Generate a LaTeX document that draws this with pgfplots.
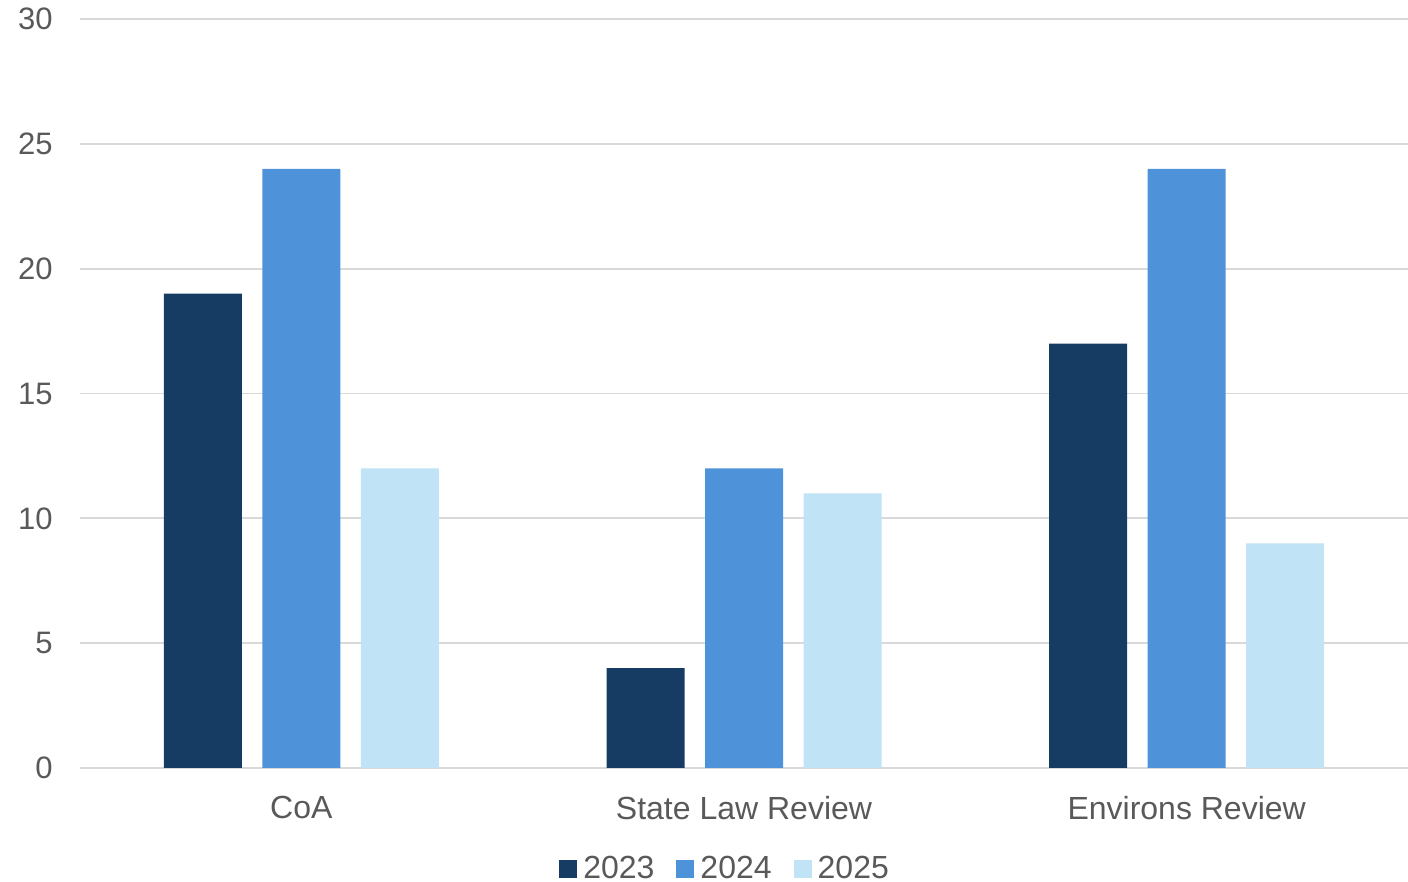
\documentclass[border=0pt]{standalone}
\usepackage{pgfplots}
\pgfplotsset{compat=1.18}
\usepackage{fontspec}
\setmainfont{Liberation Sans}

\definecolor{cDark}{HTML}{173C63}
\definecolor{cMid}{HTML}{4E93D9}
\definecolor{cLight}{HTML}{C0E3F5}
\definecolor{cGrid}{HTML}{D9D9D9}
\definecolor{cText}{HTML}{595959}

\begin{document}
\begin{tikzpicture}
\begin{axis}[
  scale only axis,
  width=664pt, height=374.5pt,
  at={(0,0)}, anchor=south west,
  ybar=10.25pt, bar width=39pt,
  xmin=-0.5, xmax=2.5,
  ymin=0, ymax=30,
  xtick={0,1,2},
  xticklabels={CoA, State Law Review, Environs Review},
  ytick={0,5,...,30},
  ymajorgrids,
  grid style={draw=cGrid, line width=0.9pt},
  axis line style={draw=none},
  major tick length=0pt,
  tick style={draw=none},
  /pgf/number format/assume math mode=true,
  yticklabel style={font=\fontsize{15.5}{18}\selectfont, text=cText, inner sep=0pt, anchor=east, xshift=-13.5pt},
  xticklabel style={font=\fontsize{16}{19}\selectfont, text=cText, inner sep=0pt, anchor=north, yshift=-14pt},
  legend columns=3,
  legend style={draw=none, fill=none, at={(0.485,-0.1342)}, anchor=center,
    font=\fontsize{16}{19}\selectfont, text=cText,
    nodes={inner sep=0pt},
    /tikz/every odd column/.append style={column sep=3pt},
    /tikz/every even column/.append style={column sep=11pt}},
  legend image code/.code={\fill[#1] (0pt,-4.5pt) rectangle (9pt,4.5pt);},
  every axis plot/.append style={draw=none},
]
\addplot[fill=cDark] coordinates {(0,19) (1,4) (2,17)};
\addplot[fill=cMid] coordinates {(0,24) (1,12) (2,24)};
\addplot[fill=cLight] coordinates {(0,12) (1,11) (2,9)};
\legend{2023, 2024, 2025}
\end{axis}
\pgfresetboundingbox
\path (-40pt,-57pt) rectangle (664pt,384pt);
\end{tikzpicture}
\end{document}
